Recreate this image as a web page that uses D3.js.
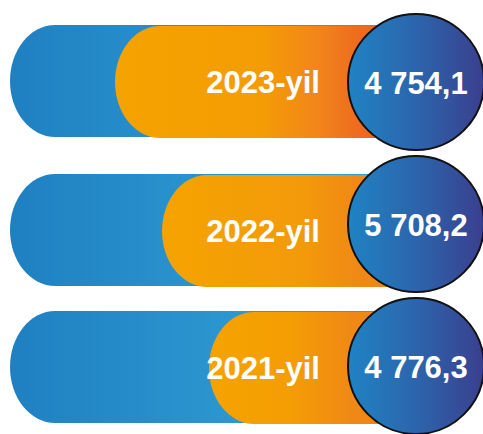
<!DOCTYPE html>
<html>
<head>
<meta charset="utf-8">
<script src="https://cdn.jsdelivr.net/npm/d3@7"></script>
<style>
  html, body { margin: 0; padding: 0; background: #fff; }
  svg { display: block; }
</style>
</head>
<body>
<div id="chart"></div>
<script>
// Yearly figures shown in the pills
const years = ["2023-yil", "2022-yil", "2021-yil"];
const values = [4754.1, 5708.2, 4776.3];

const W = 483, H = 434;
const svg = d3.select("#chart").append("svg")
  .attr("width", W).attr("height", H);

// Uzbek-style number format: space thousands, comma decimal
const loc = d3.formatLocale({ decimal: ",", thousands: " ", grouping: [3], currency: ["", ""] });
const fmt = loc.format(",.1f");

const rows = years.map((y, i) => ({ year: y, value: values[i], i }));

// Row centres for the pills and for the value discs
const y = d3.scaleOrdinal().domain(years).range([81, 230, 367]);
const circleY = d3.scalePoint().domain(years).range([82, 366]);
// Left edge of the orange pill steps right on each row
const orangeX = d3.scaleLinear().domain([0, 2]).range([115, 209]);

const barH = 112, rx = 45, ry = 56;
const blueX = 10, barEnd = 440;
const cx = 416, cR = 68;

// Pill with elliptical left end; right end is tucked under the disc
function pill(x0, x1, yc) {
  const top = yc - barH / 2, bot = yc + barH / 2;
  return `M${x0 + rx},${top} L${x1},${top} L${x1},${bot} L${x0 + rx},${bot} ` +
         `A${rx},${ry} 0 0 1 ${x0 + rx},${top} Z`;
}

const defs = svg.append("defs");
const blueGrad = defs.append("linearGradient").attr("id", "gBlue");
blueGrad.append("stop").attr("offset", 0).attr("stop-color", "#1f80c1");
blueGrad.append("stop").attr("offset", 0.6).attr("stop-color", "#2e9ad3");
blueGrad.append("stop").attr("offset", 1).attr("stop-color", "#33a0d8");

const orangeStops = [
  [[0, "#f5a300"], [0.45, "#f49c04"], [0.62, "#f2861a"], [0.75, "#ee6b1f"], [1, "#ec5a24"]],
  [[0, "#f5a300"], [0.5, "#f39a0a"], [0.7, "#f08915"], [1, "#ee7a1c"]],
  [[0, "#f5a300"], [0.35, "#f49d04"], [0.6, "#f08a14"], [1, "#ee7a1c"]]
];
orangeStops.forEach((stops, i) => {
  const g = defs.append("linearGradient").attr("id", "gOrange" + i);
  stops.forEach(([o, c]) => g.append("stop").attr("offset", o).attr("stop-color", c));
});

const circGrad = defs.append("linearGradient").attr("id", "gCircle");
circGrad.append("stop").attr("offset", 0).attr("stop-color", "#1f83c4");
circGrad.append("stop").attr("offset", 0.5).attr("stop-color", "#2c65ac");
circGrad.append("stop").attr("offset", 1).attr("stop-color", "#3a3f8e");

const g = svg.selectAll("g.row").data(rows).join("g").attr("class", "row");

g.append("path")
  .attr("d", d => pill(blueX, barEnd, y(d.year)))
  .attr("fill", "url(#gBlue)");

g.append("path")
  .attr("d", d => pill(orangeX(d.i), barEnd, y(d.year) + 1))
  .attr("fill", d => `url(#gOrange${d.i})`);

g.append("text")
  .attr("x", 320)
  .attr("y", d => y(d.year) + 12)
  .attr("text-anchor", "end")
  .attr("font-family", "'Liberation Sans', Arial, sans-serif")
  .attr("font-weight", "bold")
  .attr("font-size", 31)
  .attr("fill", "#fff")
  .text(d => d.year);

g.append("circle")
  .attr("cx", cx)
  .attr("cy", d => circleY(d.year))
  .attr("r", cR)
  .attr("fill", "url(#gCircle)")
  .attr("stroke", "#111")
  .attr("stroke-width", 2);

g.append("text")
  .attr("x", cx)
  .attr("y", d => circleY(d.year) + 12)
  .attr("text-anchor", "middle")
  .attr("font-family", "'Liberation Sans', Arial, sans-serif")
  .attr("font-weight", "bold")
  .attr("font-size", 31)
  .attr("fill", "#fff")
  .text(d => fmt(d.value));
</script>
</body>
</html>
